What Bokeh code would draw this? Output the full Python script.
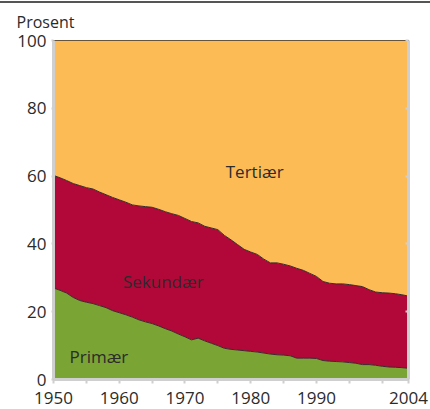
from bokeh.plotting import figure
from bokeh.models import ColumnDataSource, FixedTicker, LinearAxis, Range1d, Div
from bokeh.layouts import column
from bokeh.core.properties import value
from bokeh.embed import file_html
from bokeh.resources import INLINE

years = list(range(1950, 2005))
primaer = [27.0, 26.3, 25.5, 24.2, 23.3, 22.8, 22.4, 21.8, 21.2, 20.3,
           19.7, 19.1, 18.4, 17.6, 17.0, 16.5, 15.8, 15.0, 14.3, 13.4,
           12.6, 11.7, 12.2, 11.4, 10.7, 10.0, 9.2, 8.9, 8.7, 8.5,
           8.3, 8.1, 7.8, 7.5, 7.3, 7.2, 7.0, 6.3, 6.3, 6.3,
           6.2, 5.6, 5.4, 5.3, 5.2, 5.0, 4.8, 4.4, 4.4, 4.2,
           3.9, 3.7, 3.6, 3.5, 3.3]
sekundaer = [33.2, 33.2, 33.2, 33.6, 33.9, 33.8, 33.8, 33.5, 33.3, 33.4,
             33.3, 33.2, 33.1, 33.6, 34.0, 34.3, 34.4, 34.5, 34.6, 35.0,
             34.9, 34.9, 34.0, 33.8, 34.0, 34.2, 33.3, 32.3, 31.1, 29.9,
             29.3, 28.8, 27.7, 26.9, 27.1, 26.8, 26.5, 26.5, 25.9, 25.0,
             24.2, 23.3, 23.0, 22.9, 23.0, 23.0, 22.9, 23.0, 22.1, 21.6,
             21.7, 21.8, 21.7, 21.5, 21.3]
tertiaer = [39.8, 40.5, 41.3, 42.2, 42.8, 43.4, 43.8, 44.7, 45.5, 46.3,
            47.0, 47.7, 48.5, 48.8, 49.0, 49.2, 49.8, 50.5, 51.1, 51.6,
            52.5, 53.4, 53.8, 54.8, 55.3, 55.8, 57.5, 58.8, 60.2, 61.6,
            62.4, 63.1, 64.5, 65.6, 65.6, 66.0, 66.5, 67.2, 67.8, 68.7,
            69.6, 71.1, 71.6, 71.8, 71.8, 72.0, 72.3, 72.6, 73.5, 74.2,
            74.4, 74.5, 74.7, 75.0, 75.4]

series_names = ["Tertiær", "Sekundær", "Primær"]
label_x = [1980.6, 1966.7, 1956.9]
label_y = [61.4, 28.9, 6.8]

x_major_ticks = [1950, 1960, 1970, 1980, 1990, 2004]
x_minor_ticks = [1955, 1965, 1975, 1985, 1995, 2000]
y_ticks = [0, 20, 40, 60, 80, 100]

colors = ["#7aa434", "#b10839", "#fdbb55"]
FONT = "Open Sans"
TXT = "#2b2b2b"
GREY = "#cfcfcf"

src = ColumnDataSource(dict(year=years, primaer=primaer, sekundaer=sekundaer, tertiaer=tertiaer))

p = figure(width=430, height=406, output_backend="svg", toolbar_location=None,
           x_range=Range1d(1950, 2004), y_range=Range1d(0, 100),
           min_border_left=53, min_border_right=22, min_border_top=37, min_border_bottom=30,
           margin=0)
p.background_fill_color = "white"
p.outline_line_color = "#333333"
p.outline_line_width = 1
p.grid.visible = False

p.varea_stack(["primaer", "sekundaer", "tertiaer"], x="year", color=colors, source=src)
p.vline_stack(["primaer", "sekundaer"], x="year", color="#3a2a2a", line_width=1, source=src)

lab_src = ColumnDataSource(dict(x=label_x, y=label_y, t=series_names))
p.text(x="x", y="y", text="t", source=lab_src, text_align="center", text_baseline="middle",
       text_font=value(FONT), text_font_size="17px", text_color=TXT)

# axes
xa = p.xaxis[0]
xa.ticker = FixedTicker(ticks=x_major_ticks, minor_ticks=x_minor_ticks)
ya = p.yaxis[0]
ya.ticker = FixedTicker(ticks=y_ticks)
for ax in (xa, ya):
    ax.axis_line_color = GREY
    ax.axis_line_width = 3
    ax.major_tick_line_color = GREY
    ax.major_tick_line_width = 2
    ax.major_tick_out = 4
    ax.major_tick_in = 0
    ax.minor_tick_line_color = GREY
    ax.minor_tick_line_width = 2
    ax.minor_tick_out = 4
    ax.minor_tick_in = 0
    ax.major_label_text_font = FONT
    ax.major_label_text_font_size = "17px"
    ax.major_label_text_color = TXT
    ax.major_label_text_line_height = 1.0
ya.major_tick_out = 2
ya.major_label_standoff = 5
xa.major_label_standoff = 8

ra = LinearAxis(ticker=FixedTicker(ticks=[], minor_ticks=y_ticks))
ra.axis_line_color = GREY
ra.axis_line_width = 3
ra.major_tick_line_color = None
ra.minor_tick_line_color = GREY
ra.minor_tick_line_width = 2
ra.minor_tick_in = 3
ra.minor_tick_out = 0
p.add_layout(ra, "right")

p.title.text = "Prosent"
p.title.text_font = FONT
p.title.text_font_size = "16px"
p.title.text_font_style = "normal"
p.title.text_color = TXT
p.title.align = "left"
p.title.vertical_align = "top"
p.title.offset = -37
p.title.standoff = 12

top_line = Div(width=430, height=2, margin=(1, 0, 0, 0), styles={"background-color": "#555555"})

layout = column(top_line, p, spacing=0)
open("out.html", "w").write(file_html(layout, INLINE))
